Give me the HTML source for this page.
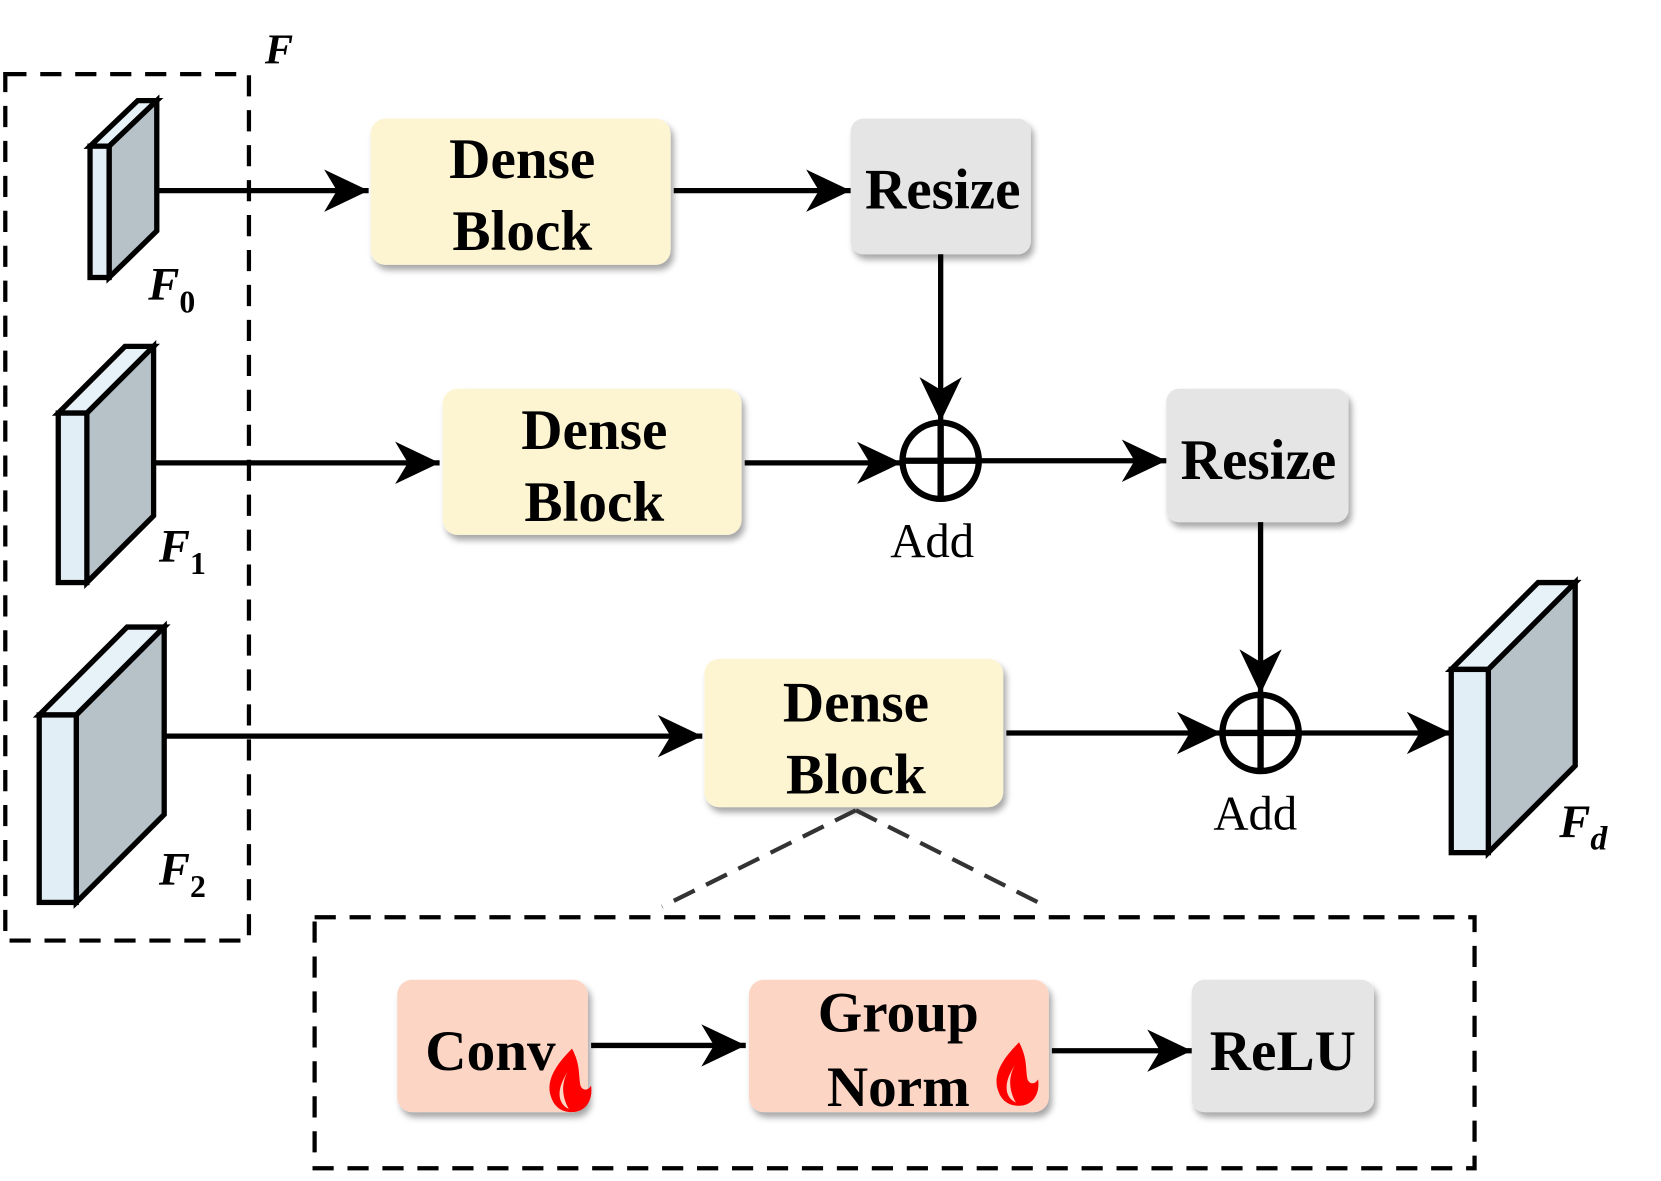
<!DOCTYPE html>
<html><head><meta charset="utf-8"><style>
html,body{margin:0;padding:0;background:#fff;}
svg{display:block;}
text{font-family:"Liberation Serif",serif;}
</style></head><body>
<svg width="1661" height="1181" viewBox="0 0 1568 1115" preserveAspectRatio="none" xmlns="http://www.w3.org/2000/svg">
<defs>
<marker id="ah" markerUnits="userSpaceOnUse" markerWidth="44" markerHeight="44" viewBox="0 0 44 44" refX="42" refY="22" orient="auto">
<path d="M0,2 L42,22 L0,42 L12,22 Z" fill="#000"/>
</marker>
<filter id="sh" x="-10%" y="-10%" width="125%" height="130%">
<feDropShadow dx="3" dy="5" stdDeviation="3" flood-color="#000" flood-opacity="0.35"/>
</filter>
</defs>

<rect x="5" y="70" width="230" height="818" fill="none" stroke="#000" stroke-width="4" stroke-dasharray="20,13"/>
<text x="250" y="60" font-size="40" font-weight="bold" font-style="italic">F</text>

<g stroke="#000" stroke-width="5" stroke-linejoin="miter">
<path d="M85,138 L130,95 L148,95 L103,138 Z" fill="#e6f2f8"/>
<path d="M103,138 L148,95 L148,218 L103,262 Z" fill="#b7c2c8"/>
<rect x="85" y="138" width="18" height="124" fill="#e2eef5"/>

<path d="M55,390 L118,327 L145,327 L82,390 Z" fill="#e6f2f8"/>
<path d="M82,390 L145,327 L145,487 L82,550 Z" fill="#b7c2c8"/>
<rect x="55" y="390" width="27" height="160" fill="#e2eef5"/>

<path d="M37,675 L120,592 L155,592 L72,675 Z" fill="#e6f2f8"/>
<path d="M72,675 L155,592 L155,769 L72,852 Z" fill="#b7c2c8"/>
<rect x="37" y="675" width="35" height="177" fill="#e2eef5"/>

<path d="M1370,632 L1452,550 L1487,550 L1405,632 Z" fill="#e6f2f8"/>
<path d="M1405,632 L1487,550 L1487,723 L1405,805 Z" fill="#b7c2c8"/>
<rect x="1370" y="632" width="35" height="173" fill="#e2eef5"/>
</g>
<text x="140" y="283" font-size="44" font-weight="bold" font-style="italic">F<tspan font-size="30" font-style="normal" dy="12">0</tspan></text>
<text x="150" y="530" font-size="44" font-weight="bold" font-style="italic">F<tspan font-size="30" font-style="normal" dy="12">1</tspan></text>
<text x="150" y="835" font-size="44" font-weight="bold" font-style="italic">F<tspan font-size="30" font-style="normal" dy="12">2</tspan></text>
<text x="1472" y="790" font-size="44" font-weight="bold" font-style="italic">F<tspan font-size="32" dy="12">d</tspan></text>

<g filter="url(#sh)">
<rect x="350" y="112" width="283" height="138" rx="14" fill="#fdf5d2"/>
<rect x="803" y="112" width="170" height="128" rx="12" fill="#e5e5e5"/>
<rect x="418" y="367" width="282" height="138" rx="14" fill="#fdf5d2"/>
<rect x="1101" y="367" width="172" height="126" rx="12" fill="#e5e5e5"/>
<rect x="665" y="622" width="282" height="140" rx="14" fill="#fdf5d2"/>
<rect x="375" y="925" width="180" height="125" rx="14" fill="#fdd5c5"/>
<rect x="707" y="925" width="283" height="125" rx="14" fill="#fdd5c5"/>
<rect x="1125" y="925" width="172" height="125" rx="12" fill="#e5e5e5"/>
</g>
<g font-size="54" font-weight="bold" text-anchor="middle">
<text x="493" y="168">Dense</text><text x="493" y="236">Block</text>
<text x="890" y="197">Resize</text>
<text x="561" y="424">Dense</text><text x="561" y="492">Block</text>
<text x="1188" y="452">Resize</text>
<text x="808" y="681">Dense</text><text x="808" y="749">Block</text>
<text x="463" y="1010">Conv</text>
<text x="848" y="974">Group</text><text x="848" y="1044">Norm</text>
<text x="1211" y="1010">ReLU</text>
</g>
<g font-size="46" text-anchor="middle">
<text x="880" y="526">Add</text>
<text x="1185" y="783">Add</text>
</g>

<g fill="#ff0000">
<path d="M540,990 C525,1005 515,1020 520,1035 C523,1045 530,1050 540,1050 C552,1050 560,1040 558,1025 C555,1030 550,1030 548,1025 C546,1015 548,1005 540,990 Z M536,1012 C530,1022 530,1035 537,1047 C526,1042 525,1028 536,1012 Z" fill-rule="evenodd"/>
<path d="M962,984 C947,999 937,1014 942,1029 C945,1039 952,1044 962,1044 C974,1044 982,1034 980,1019 C977,1024 972,1024 970,1019 C968,1009 970,999 962,984 Z M958,1006 C952,1016 952,1029 959,1041 C948,1036 947,1022 958,1006 Z" fill-rule="evenodd"/>
</g>

<g stroke="#000" stroke-width="6" fill="none">
<circle cx="888" cy="435" r="36"/>
<line x1="852" y1="435" x2="924" y2="435"/><line x1="888" y1="399" x2="888" y2="471"/>
<circle cx="1190" cy="692" r="36"/>
<line x1="1154" y1="692" x2="1226" y2="692"/><line x1="1190" y1="656" x2="1190" y2="728"/>
</g>

<g stroke="#000" stroke-width="5" fill="none" marker-end="url(#ah)">
<line x1="148" y1="180" x2="348" y2="180"/>
<line x1="636" y1="180" x2="803" y2="180"/>
<line x1="888" y1="240" x2="888" y2="398"/>
<line x1="145" y1="437" x2="415" y2="437"/>
<line x1="703" y1="437" x2="851" y2="437"/>
<line x1="925" y1="435" x2="1101" y2="435"/>
<line x1="1190" y1="493" x2="1190" y2="655"/>
<line x1="155" y1="695" x2="663" y2="695"/>
<line x1="950" y1="692" x2="1153" y2="692"/>
<line x1="1228" y1="692" x2="1370" y2="692"/>
<line x1="558" y1="987" x2="704" y2="987"/>
<line x1="993" y1="992" x2="1125" y2="992"/>
</g>

<g stroke="#333" stroke-width="4" fill="none" stroke-dasharray="22,12">
<line x1="808" y1="765" x2="625" y2="856"/>
<line x1="808" y1="765" x2="988" y2="856"/>
</g>
<rect x="297" y="866" width="1095" height="237" fill="none" stroke="#000" stroke-width="4" stroke-dasharray="20,13"/>
</svg>
</body></html>
